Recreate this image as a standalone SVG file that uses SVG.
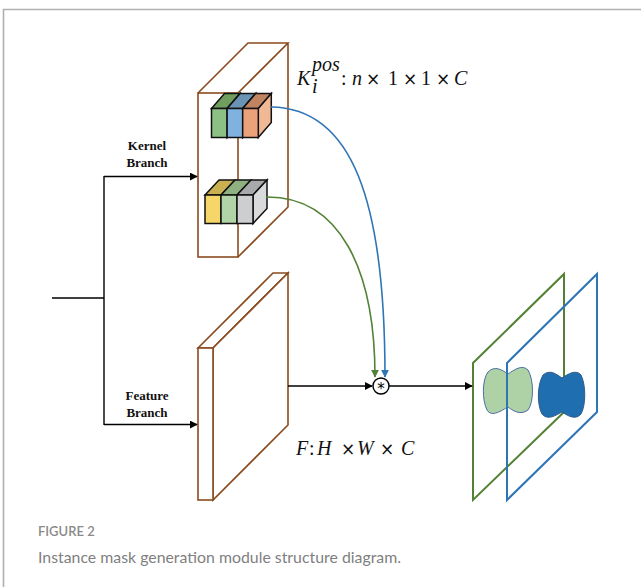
<svg xmlns="http://www.w3.org/2000/svg" width="641" height="587" viewBox="0 0 641 587">
  <style>
    .brown { fill: none; stroke: #8B4A1E; stroke-width: 1.6; stroke-linejoin: miter; }
    .slab { fill: #ffffff; stroke: #8B4A1E; stroke-width: 1.6; }
    .cube { stroke: #111; stroke-width: 1.5; stroke-linejoin: miter; }
    .wire { fill: none; stroke: #000; stroke-width: 1.4; }
    .lbl { font-family: "Liberation Serif", "Times New Roman", serif; font-weight: bold; font-size: 13px; fill: #111; text-anchor: middle; }
    .math { font-family: "Liberation Serif", "Times New Roman", serif; font-size: 20px; fill: #111; }
    .it { font-style: italic; }
    .op { font-family: "DejaVu Sans", sans-serif; font-size: 17px; }
    .cap1 { font-family: Lato, "Open Sans", sans-serif; font-size: 13px; font-weight: 600; fill: #8a8a8a; }
    .cap2 { font-family: Lato, "Open Sans", sans-serif; font-size: 16px; fill: #7f7f7f; }
  </style>
  <defs>
    <marker id="ahBlack" viewBox="0 0 10 10" refX="9" refY="5" markerWidth="8" markerHeight="8" markerUnits="userSpaceOnUse" orient="auto">
      <path d="M0,0 L10,5 L0,10 Z" fill="#000"/>
    </marker>
    <marker id="ahBlue" viewBox="0 0 10 10" refX="9" refY="5" markerWidth="8" markerHeight="8" markerUnits="userSpaceOnUse" orient="auto">
      <path d="M0,0 L10,5 L0,10 Z" fill="#2E75B6"/>
    </marker>
    <marker id="ahGreen" viewBox="0 0 10 10" refX="9" refY="5" markerWidth="8" markerHeight="8" markerUnits="userSpaceOnUse" orient="auto">
      <path d="M0,0 L10,5 L0,10 Z" fill="#548235"/>
    </marker>
  </defs>

  <rect width="641" height="587" fill="#ffffff"/>
  <!-- figure frame -->
  <path d="M3.5,587 V9.5 H641" fill="none" stroke="#b0b0b0" stroke-width="1.6"/>

  <!-- kernel branch volume -->
  <g id="kernel-volume">
    <rect class="brown" x="198" y="93" width="40" height="164"/>
    <path class="brown" d="M198,93 L248,43 H288 L238,93 M288,43 V207 L238,257"/>
  </g>

  <!-- position kernels (top row) -->
  <g id="kernel-cubes-top">
    <g>
      <path class="cube" fill="#6F9E5E" d="M211.5,108.5 l13,-15 h15.6 l-13,15 Z"/>
      <path class="cube" fill="#8CC084" d="M227.1,108.5 l13,-15 v29 l-13,15 Z"/>
      <rect class="cube" fill="#8CC084" x="211.5" y="108.5" width="15.6" height="29"/>
    </g>
    <g>
      <path class="cube" fill="#6A93B4" d="M227.1,108.5 l13,-15 h15.6 l-13,15 Z"/>
      <path class="cube" fill="#7FB2DE" d="M242.7,108.5 l13,-15 v29 l-13,15 Z"/>
      <rect class="cube" fill="#7FB2DE" x="227.1" y="108.5" width="15.6" height="29"/>
    </g>
    <g>
      <path class="cube" fill="#C08462" d="M242.7,108.5 l13,-15 h15.6 l-13,15 Z"/>
      <path class="cube" fill="#F1B896" d="M258.3,108.5 l13,-15 v29 l-13,15 Z"/>
      <rect class="cube" fill="#EBA27B" x="242.7" y="108.5" width="15.6" height="29"/>
    </g>
  </g>

  <!-- kernels (bottom row) -->
  <g id="kernel-cubes-bottom">
    <g>
      <path class="cube" fill="#C9B152" d="M205,195 l14,-15 h16 l-14,15 Z"/>
      <rect class="cube" fill="#F6D669" x="205" y="195" width="16" height="28.5"/>
    </g>
    <g>
      <path class="cube" fill="#8FB182" d="M221,195 l14,-15 h16 l-14,15 Z"/>
      <rect class="cube" fill="#B0D4A8" x="221" y="195" width="16" height="28.5"/>
    </g>
    <g>
      <path class="cube" fill="#A8A9AB" d="M237,195 l14,-15 h16 l-14,15 Z"/>
      <path class="cube" fill="#D9DADC" d="M253,195 l14,-15 v28.5 l-14,15 Z"/>
      <rect class="cube" fill="#CDCED0" x="237" y="195" width="16" height="28.5"/>
    </g>
  </g>

  <!-- feature map slab -->
  <g id="feature-slab">
    <path class="slab" d="M198,348 L273,273 H288 L213,348 Z"/>
    <path class="slab" d="M213,348 L288,273 V425 L213,500 Z"/>
    <rect class="slab" x="198" y="348" width="15" height="152"/>
  </g>

  <!-- output instance masks -->
  <g id="mask-green">
    <path d="M473,500 V363 L564,274 V412 Z" fill="none" stroke="#548235" stroke-width="2"/>
    <path d="M488,372 C495,365 502,370 508,374 C514,370 522,364 528,370 C534,380 534,402 528,410 C520,416 512,410 508,407 C502,410 492,418 487,410 C482,400 482,380 488,372 Z" fill="#AED1A6" stroke="#4A6FA5" stroke-width="1"/>
  </g>
  <g id="mask-blue">
    <path d="M543,375 C550,369 556,374 562,378 C568,374 576,369 581,375 C586,385 586,405 581,414 C575,421 567,415 562,412 C556,415 548,421 542,414 C537,405 537,385 543,375 Z" fill="#1F6EB0" stroke="#2F5B8C" stroke-width="1"/>
    <path d="M507,500 V363 L597,274 V412 Z" fill="none" stroke="#2E75B6" stroke-width="2"/>
  </g>

  <!-- convolution operator -->
  <g id="conv-op">
    <circle cx="381" cy="386" r="8" fill="#ffffff" stroke="#000" stroke-width="1.4"/>
    <text x="381" y="393.5" text-anchor="middle" font-family="'DejaVu Sans', sans-serif" font-size="15" fill="#000">*</text>
  </g>

  <!-- connectors -->
  <g id="connectors">
    <path class="wire" d="M52,298 H104 M104,176 V425"/>
    <path class="wire" d="M104,176.5 H197" marker-end="url(#ahBlack)"/>
    <path class="wire" d="M104,424.5 H197" marker-end="url(#ahBlack)"/>
    <path class="wire" d="M288,386 H372" marker-end="url(#ahBlack)"/>
    <path class="wire" d="M389,386 H472" marker-end="url(#ahBlack)"/>
    <path d="M271,107 C352,108 385,200 385,377" fill="none" stroke="#2E75B6" stroke-width="1.6" marker-end="url(#ahBlue)"/>
    <path d="M266,197 C340,196 375,270 375,377" fill="none" stroke="#548235" stroke-width="1.6" marker-end="url(#ahGreen)"/>
  </g>

  <!-- branch labels -->
  <g id="labels">
    <text class="lbl" x="147" y="150">Kernel</text>
    <text class="lbl" x="147" y="166.5">Branch</text>
    <text class="lbl" x="147" y="400">Feature</text>
    <text class="lbl" x="147" y="416.5">Branch</text>
  </g>

  <!-- tensor shapes -->
  <g id="kernel-shape">
    <text class="math it" x="297" y="85">K</text>
    <text class="math it" x="312" y="71" font-size="13.5">pos</text>
    <text class="math it" x="312" y="93" font-size="14">i</text>
    <text class="math" y="85"><tspan x="341">:</tspan><tspan class="it" x="352">n</tspan><tspan class="op" x="366">×</tspan><tspan x="388">1</tspan><tspan class="op" x="403">×</tspan><tspan x="421">1</tspan><tspan class="op" x="436">×</tspan><tspan class="it" x="454">C</tspan></text>
  </g>
  <g id="feature-shape">
    <text class="math" y="455"><tspan class="it" x="296">F</tspan><tspan x="309">:</tspan><tspan class="it" x="317">H</tspan><tspan class="op" x="341">×</tspan><tspan class="it" x="357">W</tspan><tspan class="op" x="380">×</tspan><tspan class="it" x="401">C</tspan></text>
  </g>

  <!-- caption -->
  <text class="cap1" x="38" y="536">FIGURE 2</text>
  <text class="cap2" x="38" y="563" textLength="363" lengthAdjust="spacingAndGlyphs">Instance mask generation module structure diagram.</text>
</svg>
